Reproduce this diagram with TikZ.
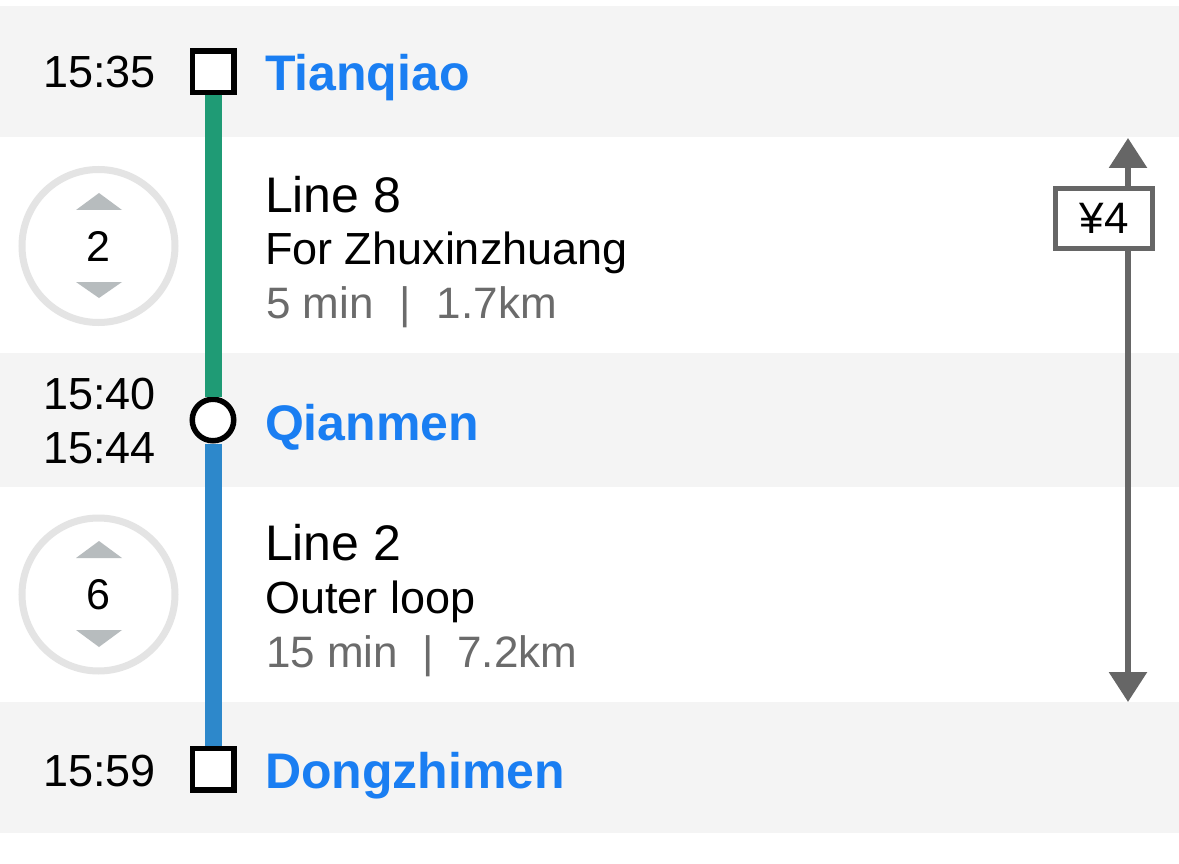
\documentclass[tikz,border=0pt]{standalone}
\usepackage{fontspec}
\setmainfont{Liberation Sans}
\usetikzlibrary{arrows.meta}
\definecolor{bandgray}{HTML}{F4F4F4}
\definecolor{stationblue}{HTML}{1A7EF2}
\definecolor{line8green}{HTML}{1F9B75}
\definecolor{line2blue}{HTML}{2D88CB}
\definecolor{subgray}{HTML}{6B6B6B}
\definecolor{faregray}{HTML}{666666}
\definecolor{ringgray}{HTML}{E4E4E4}
\definecolor{trigray}{HTML}{B7BCBE}
\tikzset{
  band/.style={fill=bandgray, draw=none},
  txt/.style={inner sep=0pt, outer sep=0pt, text=black},
  timetxt/.style={txt, anchor=base east, font=\fontsize{45}{54}\selectfont},
  stationtxt/.style={txt, anchor=base west, text=stationblue, font=\fontsize{50}{58}\selectfont\bfseries},
  linetxt/.style={txt, anchor=base west, font=\fontsize{50}{58}\selectfont},
  dirtxt/.style={txt, anchor=base west, font=\fontsize{45}{52}\selectfont},
  infotxt/.style={txt, anchor=base west, text=subgray, font=\fontsize{44}{52}\selectfont},
  endstation/.style={draw=black, line width=5.5pt, fill=white, rectangle, minimum size=41.5pt, inner sep=0pt},
  midstation/.style={draw=black, line width=5.5pt, fill=white, circle, minimum size=41.5pt, inner sep=0pt},
  route/.style={line width=17pt},
  ring/.style={draw=ringgray, line width=7pt, fill=white, circle, minimum size=153pt, inner sep=0pt,
     font=\fontsize{43}{52}\selectfont},
  tri/.style={fill=trigray, draw=none},
  farebox/.style={draw=faregray, line width=5pt, fill=white, minimum width=97pt, minimum height=60pt,
     inner sep=0pt, font=\fontsize{44}{52}\selectfont},
  farearrow/.style={draw=faregray, line width=6pt,
     {Triangle[length=30pt,width=37pt,fill=faregray]}-{Triangle[length=30pt,width=37pt,fill=faregray]}},
}
\begin{document}
\begin{tikzpicture}[x=1pt,y=-1pt]
\useasboundingbox (0,0) rectangle (1179,864);
\fill[white] (0,0) rectangle (1179,864);
% bands
\fill[band] (0,6) rectangle (1179,137);
\fill[band] (0,353) rectangle (1179,487);
\fill[band] (0,702) rectangle (1179,833);

% stations
\node[endstation] (tq) at (213,72) {};
\node[midstation] (qm) at (213,420) {};
\node[endstation] (dzm) at (213,769) {};
\draw[route, line8green] (tq) -- (qm);
\draw[route, line2blue] (qm) -- (dzm);

% times
\node[timetxt] (t1) at (156,88) {15:35};
\node[timetxt] (t2) at (156,409) {15:40};
\node[timetxt] (t3) at (156,463) {15:44};
\node[timetxt] (t4) at (156,786) {15:59};

% station names
\node[stationtxt] (n1) at (265,91) {Tianqiao};
\node[stationtxt] (n2) at (265,440) {Qianmen};
\node[stationtxt] (n3) at (265,788) {Dongzhimen};

% segment 1
\node[linetxt] (l8) at (265,212) {Line 8};
\node[dirtxt] (d8) at (265,265) {For Zhuxinzhuang};
\node[infotxt] (i8) at (266,318) {5 min\hspace{26pt}|\hspace{26pt}1.7km};
% segment 2
\node[linetxt] (l2) at (265,560) {Line 2};
\node[dirtxt] (d2) at (265,613) {Outer loop};
\node[infotxt] (i2) at (266,667) {15 min\hspace{24pt}|\hspace{24pt}7.2km};

% stop-count rings
\node[ring] (c1) at (98.5,246) {};
\node[txt, anchor=base, font=\fontsize{43}{52}\selectfont] (c1n) at (98.5,261) {2};
\fill[tri] (76,210) -- (122,210) -- (99,193) -- cycle;
\fill[tri] (76,282) -- (122,282) -- (99,298) -- cycle;

\node[ring] (c2) at (98.5,594.5) {};
\node[txt, anchor=base, font=\fontsize{43}{52}\selectfont] (c2n) at (98.5,609) {6};
\fill[tri] (76,558) -- (122,558) -- (99,541) -- cycle;
\fill[tri] (76,630) -- (122,630) -- (99,647) -- cycle;

% fare
\coordinate (fareTop) at (1128,138);
\coordinate (fareBot) at (1128,702);
\draw[farearrow] (fareTop) -- (fareBot);
\node[farebox] (fare) at (1104,218.5) {¥4};
\end{tikzpicture}
\end{document}
